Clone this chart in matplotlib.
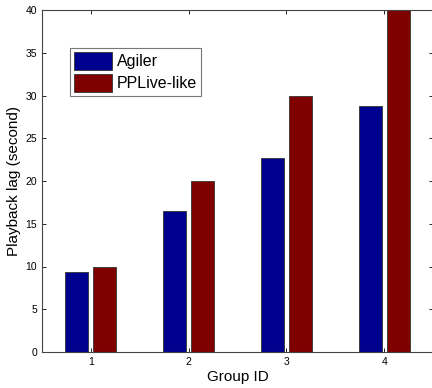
import matplotlib
matplotlib.use("Agg")
import matplotlib.pyplot as plt
import numpy as np

groups = [1, 2, 3, 4]
agiler = [9.3, 16.5, 22.7, 28.8]
pplive = [10.0, 20.0, 30.0, 40.0]
series_names = ["Agiler", "PPLive-like"]

plt.rcParams['font.family'] = ['Liberation Sans', 'DejaVu Sans']
fig = plt.figure(figsize=(4.32, 3.88), dpi=100)
ax = fig.add_axes([42/432, 36/388, 391/432, 342/388])

x = np.array(groups, dtype=float)
w = 0.235
off = 0.143
ax.bar(x - off, agiler, w, color='#00008F', edgecolor='#333333', linewidth=0.6, label=series_names[0])
ax.bar(x + off, pplive, w, color='#800000', edgecolor='#333333', linewidth=0.6, label=series_names[1])

ax.set_xlim(0.5, 4.5)
ax.set_ylim(0, 40)
ax.set_xticks(groups)
ax.set_yticks(range(0, 41, 5))
ax.tick_params(direction='in', top=True, right=True, labelsize=7.5, length=3, width=0.6)
for s in ax.spines.values():
    s.set_linewidth(0.8)
    s.set_color('#444444')
ax.set_xlabel("Group ID", fontsize=11, labelpad=2)
ax.set_ylabel("Playback lag (second)", fontsize=11, labelpad=3)

leg = ax.legend(loc='upper left', bbox_to_anchor=(28/391, 0.889), fontsize=11.5,
                frameon=True, fancybox=False, edgecolor='#555555',
                handlelength=2.4, handleheight=1.35, handletextpad=0.3,
                borderpad=0.25, labelspacing=0.25, borderaxespad=0)
leg.get_frame().set_linewidth(0.8)

fig.savefig("out.png", dpi=100)
